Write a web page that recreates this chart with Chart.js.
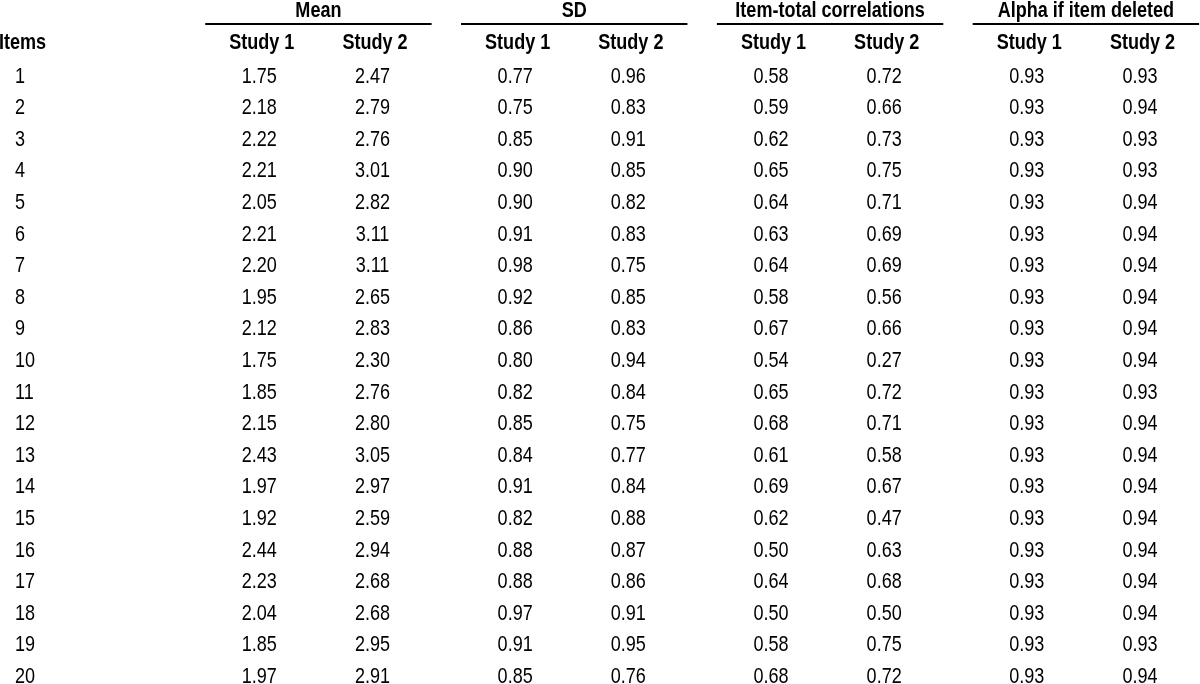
<!DOCTYPE html>
<html>
<head>
<meta charset="utf-8">
<script src="https://cdn.jsdelivr.net/npm/chart.js@4.4.1/dist/chart.umd.min.js"></script>
<style>
  html, body { margin: 0; padding: 0; background: #fff; }
  #wrap { width: 1200px; height: 684px; }
</style>
</head>
<body>
<div id="wrap"><canvas id="tableChart" width="1200" height="684"></canvas></div>
<script>
// ---- table data ----
const items = [1, 2, 3, 4, 5, 6, 7, 8, 9, 10, 11, 12, 13, 14, 15, 16, 17, 18, 19, 20];
const groups = ['Mean', 'SD', 'Item-total correlations', 'Alpha if item deleted'];
const studies = ['Study 1', 'Study 2'];

const meanStudy1 = [1.75, 2.18, 2.22, 2.21, 2.05, 2.21, 2.20, 1.95, 2.12, 1.75, 1.85, 2.15, 2.43, 1.97, 1.92, 2.44, 2.23, 2.04, 1.85, 1.97];
const meanStudy2 = [2.47, 2.79, 2.76, 3.01, 2.82, 3.11, 3.11, 2.65, 2.83, 2.30, 2.76, 2.80, 3.05, 2.97, 2.59, 2.94, 2.68, 2.68, 2.95, 2.91];
const sdStudy1 = [0.77, 0.75, 0.85, 0.90, 0.90, 0.91, 0.98, 0.92, 0.86, 0.80, 0.82, 0.85, 0.84, 0.91, 0.82, 0.88, 0.88, 0.97, 0.91, 0.85];
const sdStudy2 = [0.96, 0.83, 0.91, 0.85, 0.82, 0.83, 0.75, 0.85, 0.83, 0.94, 0.84, 0.75, 0.77, 0.84, 0.88, 0.87, 0.86, 0.91, 0.95, 0.76];
const itcStudy1 = [0.58, 0.59, 0.62, 0.65, 0.64, 0.63, 0.64, 0.58, 0.67, 0.54, 0.65, 0.68, 0.61, 0.69, 0.62, 0.50, 0.64, 0.50, 0.58, 0.68];
const itcStudy2 = [0.72, 0.66, 0.73, 0.75, 0.71, 0.69, 0.69, 0.56, 0.66, 0.27, 0.72, 0.71, 0.58, 0.67, 0.47, 0.63, 0.68, 0.50, 0.75, 0.72];
const alphaStudy1 = [0.93, 0.93, 0.93, 0.93, 0.93, 0.93, 0.93, 0.93, 0.93, 0.93, 0.93, 0.93, 0.93, 0.93, 0.93, 0.93, 0.93, 0.93, 0.93, 0.93];
const alphaStudy2 = [0.93, 0.94, 0.93, 0.93, 0.94, 0.94, 0.94, 0.94, 0.94, 0.94, 0.93, 0.94, 0.94, 0.94, 0.94, 0.94, 0.94, 0.94, 0.93, 0.94];

const columns = [
  [meanStudy1, meanStudy2],
  [sdStudy1, sdStudy2],
  [itcStudy1, itcStudy2],
  [alphaStudy1, alphaStudy2]
];

// ---- layout (scale units) ----
const GROUP_STRIDE = 2.26;   // distance between groups, in column units
const ITEMS_X = -2.18;       // item number column
const HEADER_Y = -0.05;      // "Study 1 / Study 2" row
const TITLE_Y = -1.06;       // group titles
const RULE_Y = -0.66;        // line under group titles
const FONT = "'Liberation Sans', Arial, sans-serif";
const NARROW = 0.82;         // no narrow face installed, squeeze Liberation Sans instead

function colX(g, s) { return g * GROUP_STRIDE + s; }

// draw condensed text (Arial Narrow look)
function narrowText(ctx, text, x, y, align) {
  ctx.save();
  ctx.translate(x, y);
  ctx.scale(NARROW, 1);
  ctx.textAlign = align;
  ctx.fillText(text, 0, 0);
  ctx.restore();
}

// one scatter dataset per table column, points are invisible, text drawn by plugin
const datasets = [{
  label: 'Items',
  data: items.map((it, i) => ({ x: ITEMS_X, y: i + 1 })),
  texts: items.map(String),
  align: 'left',
  pointRadius: 0
}];
columns.forEach((pair, g) => {
  pair.forEach((vals, s) => {
    datasets.push({
      label: groups[g] + ' ' + studies[s],
      data: vals.map((v, i) => ({ x: colX(g, s), y: i + 1 })),
      texts: vals.map(v => v.toFixed(2)),
      align: 'center',
      pointRadius: 0
    });
  });
});

const tableText = {
  id: 'tableText',
  afterDatasetsDraw(chart) {
    const ctx = chart.ctx;
    const xs = chart.scales.x, ys = chart.scales.y;
    ctx.save();
    ctx.fillStyle = '#000';
    ctx.textBaseline = 'middle';

    // cells
    ctx.font = '22px ' + FONT;
    chart.data.datasets.forEach((ds, di) => {
      const meta = chart.getDatasetMeta(di);
      meta.data.forEach((el, i) => {
        const dx = ds.align === 'center' ? -2.5 : 0;
        narrowText(ctx, ds.texts[i], el.x + dx, el.y, ds.align);
      });
    });

    // headers
    ctx.font = 'bold 22px ' + FONT;
    narrowText(ctx, 'Items', chart.chartArea.left - 1, ys.getPixelForValue(HEADER_Y), 'left');
    groups.forEach((name, g) => {
      const mid = (colX(g, 0) + colX(g, 1)) / 2;
      narrowText(ctx, name, xs.getPixelForValue(mid), ys.getPixelForValue(TITLE_Y), 'center');
      studies.forEach((st, s) => {
        narrowText(ctx, st, xs.getPixelForValue(colX(g, s)), ys.getPixelForValue(HEADER_Y), 'center');
      });
      // rule under group title
      const yr = Math.round(ys.getPixelForValue(RULE_Y));
      const x0 = xs.getPixelForValue(mid - 1.0), x1 = xs.getPixelForValue(mid + 1.0);
      ctx.fillRect(x0, yr - 1, x1 - x0, 2);
    });
    ctx.restore();
  }
};

new Chart(document.getElementById('tableChart'), {
  type: 'scatter',
  data: { datasets: datasets },
  options: {
    responsive: false,
    animation: false,
    events: [],
    layout: { padding: 0 },
    plugins: { legend: { display: false }, tooltip: { enabled: false } },
    scales: {
      x: { type: 'linear', display: false, min: -2.313, max: 8.288 },
      y: { type: 'linear', display: false, reverse: true, min: -1.421, max: 20.225 }
    }
  },
  plugins: [tableText]
});
</script>
</body>
</html>
